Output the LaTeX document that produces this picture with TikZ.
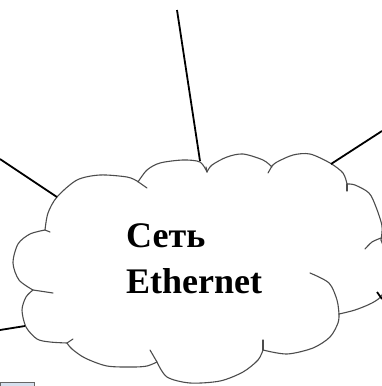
\documentclass[tikz,border=0pt]{standalone}
\usepackage{fontspec}
\setmainfont{Liberation Serif}
\begin{document}
\begin{tikzpicture}[x=1pt,y=-1pt,
  cloudline/.style={draw=black!70, line width=1.1pt, line cap=round},
  hintline/.style={draw=black!70, line width=1.1pt, line cap=round},
  wire/.style={draw=black, line width=1.8pt},
  label/.style={font=\fontsize{36}{40}\selectfont\bfseries, inner sep=0pt, anchor=base west}]
\useasboundingbox (0,0) rectangle (382,386);
\begin{scope}
\clip (0,0) rectangle (382,386);
% cloud lobes
\draw[cloudline] plot[smooth] coordinates {(45,230) (48,213) (57,197) (77,180) (100,175) (127,177) (137,181)};
\draw[cloudline] plot[smooth] coordinates {(138,182) (147,170) (160,163) (183,160) (200,162) (207,172)};
\draw[cloudline] plot[smooth] coordinates {(207,172) (212,165) (227,157) (243,154) (263,160) (272,167)};
\draw[cloudline] plot[smooth] coordinates {(272,166) (277,162) (293,155) (310,154) (330,163) (343,173) (347,184)};
\draw[cloudline] plot[smooth] coordinates {(347,184) (355,185) (369,193) (376,207) (382,226) (381,240)};
\draw[cloudline] plot[smooth] coordinates {(381,240) (386,256) (386,278) (382,295) (372,303) (355,310) (339,314)};
\draw[cloudline] plot[smooth] coordinates {(339,314) (338,323) (330,337) (313,348) (287,354) (263,350)};
\draw[cloudline] plot[smooth] coordinates {(263,350) (258,360) (243,372) (220,381) (190,383) (167,377) (157,362)};
\draw[cloudline] plot[smooth] coordinates {(157,362) (147,366) (133,367) (107,366) (85,358) (72,349) (67,343)};
\draw[cloudline] plot[smooth] coordinates {(67,343) (50,342) (37,339) (26,327) (22,310) (26,297) (33,290)};
\draw[cloudline] plot[smooth] coordinates {(33,290) (19,280) (13,263) (18,244) (30,234) (45,230)};
% inner hints
\draw[hintline] (137,181) -- (147,188);
\draw[hintline] (207,172) -- (206,167);
\draw[hintline] (272,166) -- (268,173);
\draw[hintline] (347,184) -- (347,191);
\draw[hintline] plot[smooth] coordinates {(381,238) (372,242) (365,249)};
\draw[hintline] plot[smooth] coordinates {(339,314) (337,300) (329,283) (310,273)};
\draw[hintline] (263,350) -- (263,340);
\draw[hintline] (157,362) -- (150,350);
\draw[hintline] (67,343) -- (73,339);
\draw[hintline] (33,290) -- (53,293);
\draw[hintline] (45,230) -- (50,232);
\end{scope}
% connection points
\coordinate (cl) at (57,197);
\coordinate (ct) at (200,161);
\coordinate (cr) at (331,164);
\coordinate (cbl) at (25,326);
\coordinate (cbr) at (377,292);
\coordinate (el) at (0,159);
\coordinate (et) at (177,10);
\coordinate (er) at (382,131);
\coordinate (ebl) at (0,330);
\coordinate (ebr) at (382,299);
\draw[wire] (el) -- (cl);
\draw[wire] (et) -- (ct);
\draw[wire] (er) -- (cr);
\draw[wire] (ebl) -- (cbl);
\draw[wire] (cbr) -- (ebr);
% fragment at bottom-left corner
\filldraw[fill={rgb,255:red,214;green,224;blue,238}, draw=black!60, line width=0.6pt] (0,382.5) rectangle (34,387);
% label
\node[label] (t1) at (126,247.3) {Сеть};
\node[label] (t2) at (126,293.3) {Ethernet};
\end{tikzpicture}
\end{document}
